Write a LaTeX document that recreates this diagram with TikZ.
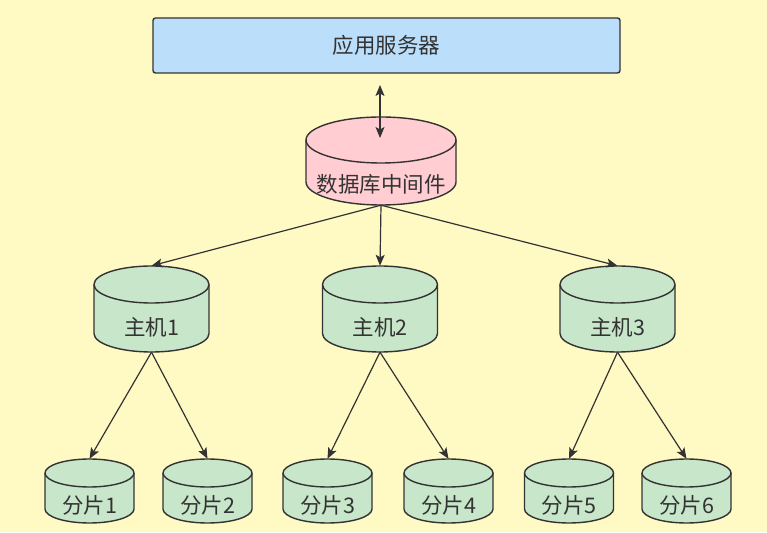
\documentclass[tikz,border=0pt]{standalone}
\usepackage{fontspec}
\setmainfont{Noto Sans CJK SC}
\usetikzlibrary{arrows.meta,calc}
\definecolor{bgc}{HTML}{FFF9C4}
\definecolor{bluec}{HTML}{BBDEFB}
\definecolor{pinkc}{HTML}{FFCDD2}
\definecolor{greenc}{HTML}{C8E6C9}
\definecolor{edgec}{HTML}{333333}
\tikzset{
  cyl/.style={draw=edgec,line width=1.4pt,line join=round},
  lbl/.style={text=edgec,font=\fontsize{21.5}{25}\selectfont,inner sep=0pt},
  arr/.style={draw=edgec,line width=1.2pt,-{Stealth[length=11pt,width=9pt,inset=2.5pt]}},
  darr/.style={draw=edgec,line width=1.2pt,{Stealth[length=11pt,width=9pt,inset=2.5pt]}-{Stealth[length=11pt,width=9pt,inset=2.5pt]}},
}
% name, cx, ytop, rx, height, ry, fill, text
\newcommand\dbcyl[8]{%
  \pgfmathsetmacro\cylxl{#2-#4}\pgfmathsetmacro\cylxr{#2+#4}%
  \pgfmathsetmacro\cylyb{#3-#5}%
  \pgfmathsetmacro\cylytc{#3-#6}\pgfmathsetmacro\cylybc{#3-#5+#6}%
  \filldraw[cyl,fill=#7] (\cylxl,\cylytc) -- (\cylxl,\cylybc)
    arc[start angle=180,end angle=360,x radius=#4pt,y radius=#6pt]
    -- (\cylxr,\cylytc)
    arc[start angle=0,end angle=180,x radius=#4pt,y radius=#6pt] -- cycle;
  \draw[cyl] (\cylxl,\cylytc) arc[start angle=180,end angle=360,x radius=#4pt,y radius=#6pt];
  \node[minimum width={2*#4 pt},minimum height=#5pt,inner sep=0pt] (#1) at (#2,{#3-#5/2}) {};
  \node[lbl] (#1-t) at (#2,{(#3-2*#6+\cylyb)/2}) {#8};
}
\begin{document}
\begin{tikzpicture}[x=1pt,y=1pt]
\useasboundingbox (0,0) rectangle (767,532);
\fill[bgc] (0,0) rectangle (767,532);
% application server
\node[draw=edgec,line width=1.4pt,fill=bluec,rounded corners=2.5pt,minimum width=467pt,minimum height=55pt,inner sep=0pt,lbl] (app) at (386.5,486.5) {应用服务器};
% middleware
\dbcyl{mw}{381}{415}{75}{88}{23}{pinkc}{数据库中间件}
% hosts
\dbcyl{h1}{151.5}{266}{57.5}{86}{18.5}{greenc}{主机1}
\dbcyl{h2}{380}{266}{57.5}{86}{18.5}{greenc}{主机2}
\dbcyl{h3}{617.5}{266}{57.5}{86}{18.5}{greenc}{主机3}
% shards
\dbcyl{s1}{89.5}{73}{44.5}{64}{14}{greenc}{分片1}
\dbcyl{s2}{207.5}{73}{44.5}{64}{14}{greenc}{分片2}
\dbcyl{s3}{327.5}{73}{44.5}{64}{14}{greenc}{分片3}
\dbcyl{s4}{448.5}{73}{44.5}{64}{14}{greenc}{分片4}
\dbcyl{s5}{569}{73}{44.5}{64}{14}{greenc}{分片5}
\dbcyl{s6}{686.5}{73}{44.5}{64}{14}{greenc}{分片6}
% double arrow
\coordinate (da1) at (380,447);
\coordinate (da2) at (380,394);
\draw[darr] (da1) -- (da2);
% connectors
\draw[arr] (mw.south) -- (h1.north);
\draw[arr] (mw.south) -- (h2.north);
\draw[arr] (mw.south) -- (h3.north);
\draw[arr] (h1.south) -- (s1.north);
\draw[arr] (h1.south) -- (s2.north);
\draw[arr] (h2.south) -- (s3.north);
\draw[arr] (h2.south) -- (s4.north);
\draw[arr] (h3.south) -- (s5.north);
\draw[arr] (h3.south) -- (s6.north);
\end{tikzpicture}
\end{document}
